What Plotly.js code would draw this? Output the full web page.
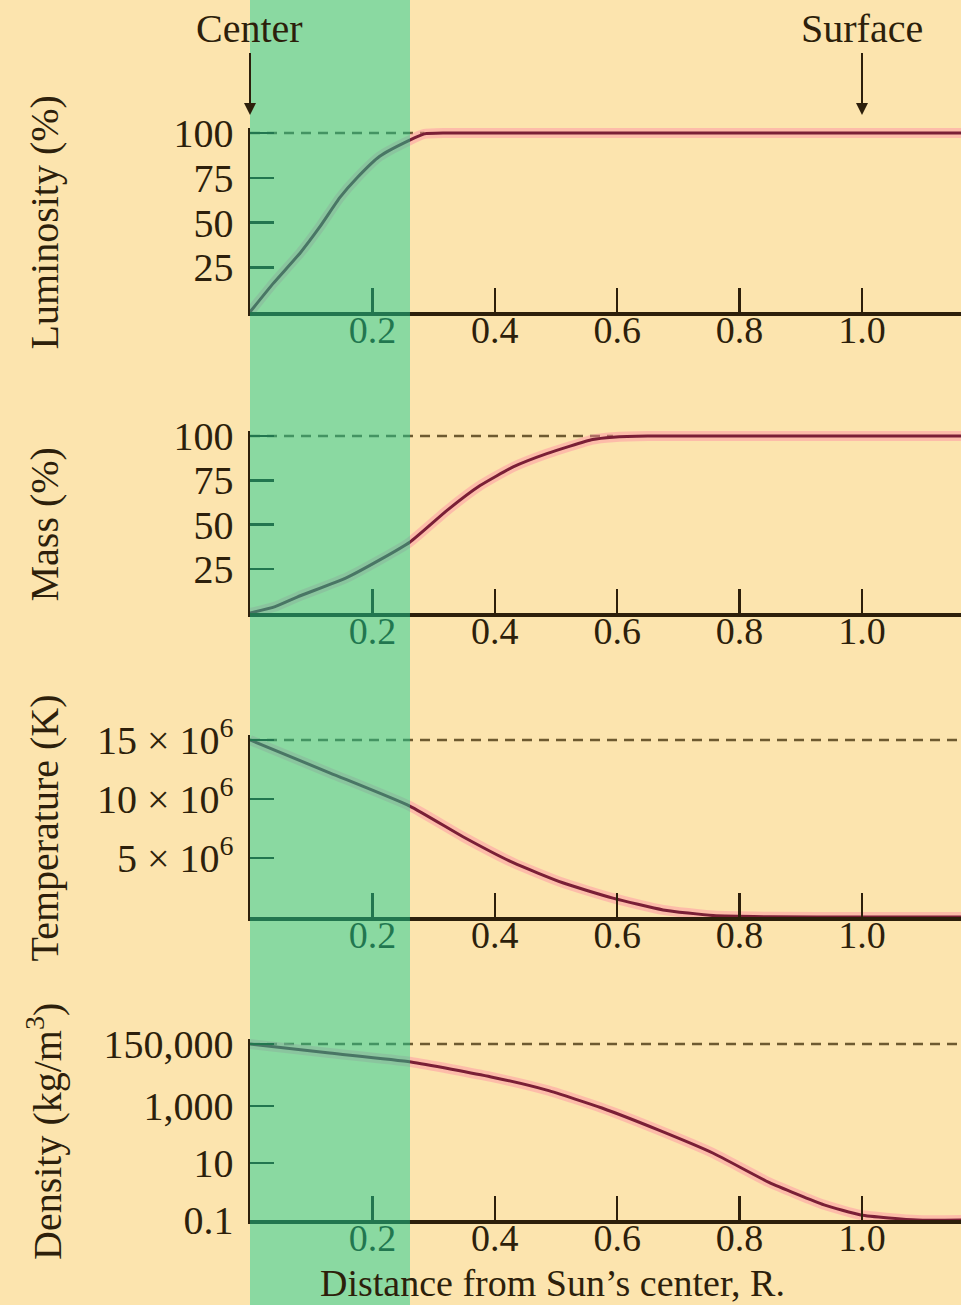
<!DOCTYPE html>
<html>
<head>
<meta charset="utf-8">
<script src="https://cdn.plot.ly/plotly-3.0.1.min.js"></script>
<style>html,body{margin:0;padding:0;background:#FCE4AE;}</style>
</head>
<body>
<div id="chart" style="width:961px;height:1305px;"></div>
<script>
// ---------- data ----------
const lumR   = [0, 0.038, 0.082, 0.114, 0.147, 0.175, 0.212, 0.261, 0.285, 0.32, 0.5, 0.7, 0.9, 1.0, 1.162];
const lumPct = [0, 16, 33, 47.5, 64, 75, 87, 96, 99.5, 100, 100, 100, 100, 100, 100];

const massR   = [0, 0.04, 0.077, 0.158, 0.212, 0.261, 0.322, 0.376, 0.43, 0.485, 0.56, 0.593, 0.65, 0.8, 1.0, 1.162];
const massPct = [0, 3.5, 9, 20, 30, 40, 58, 72, 82.5, 90, 98, 99.3, 100, 100, 100, 100];

const tempR = [0, 0.131, 0.261, 0.348, 0.43, 0.511, 0.593, 0.675, 0.757, 0.85, 1.0, 1.162];
const tempK = [15.0e6, 12.2e6, 9.4e6, 6.8e6, 4.6e6, 2.9e6, 1.6e6, 0.6e6, 0.12e6, 0.02e6, 0.006e6, 0.006e6];

const densR  = [0, 0.13, 0.263, 0.394, 0.485, 0.575, 0.667, 0.757, 0.848, 0.938, 0.998, 1.09, 1.162];
const densKg = [150000, 72000, 35000, 10500, 3600, 850, 145, 22, 2.1, 0.34, 0.15, 0.1, 0.1];

const xTickVals = [0.2, 0.4, 0.6, 0.8, 1.0];
const xTickText = ['0.2', '0.4', '0.6', '0.8', '1.0'];
const lumTickVals = [25, 50, 75, 100];
const lumTickText = ['25', '50', '75', '100'];
const massTickVals = [25, 50, 75, 100];
const massTickText = ['25', '50', '75', '100'];
const tempTickVals = [5e6, 10e6, 15e6];
const tempTickText = ['5 × 10<sup>6</sup>', '10 × 10<sup>6</sup>', '15 × 10<sup>6</sup>'];
const densTickVals = [0.1, 10, 1000, 150000];
const densTickText = ['0.1', '10', '1,000', '150,000'];

const yTitles = ['Luminosity (%)', 'Mass (%)', 'Temperature (K)', 'Density (kg/m<sup>3</sup>)'];
const xTitle = 'Distance from Sun’s center, R.';
const coreEdge = 0.2614;   // outer edge of the core (green band)

// ---------- styling / geometry ----------
const W = 961, H = 1305;
const X0 = 250, PXU = 612;          // x=0 at pixel 250, 612 px per R
const xMax = (W - X0) / PXU;
const ink = '#2d1f0b';
const lineCol = '#7a1f36';
const glowCol = 'rgba(255,140,165,0.45)';
const dashCol = '#6e5a30';
const serif = 'Liberation Serif, Times New Roman, serif';
const PAD = 5;

// panel geometry: pixel of bottom value & top value
const panels = [
  {r: lumR,  v: lumPct, lo: 0, hi: 100, bot: 312, top: 133, log: false, tv: lumTickVals, tt: lumTickText, dashTo: 'reach'},
  {r: massR, v: massPct, lo: 0, hi: 100, bot: 613, top: 436, log: false, tv: massTickVals, tt: massTickText, dashTo: 'reach'},
  {r: tempR, v: tempK, lo: 0, hi: 15e6, bot: 917, top: 740, log: false, tv: tempTickVals, tt: tempTickText, dashTo: 'end'},
  {r: densR, v: densKg, lo: -1, hi: Math.log10(150000), bot: 1220, top: 1044, log: true, tv: densTickVals, tt: densTickText, dashTo: 'end'}
];

const traces = [];
const layout = {
  width: W, height: H,
  margin: {l: 0, r: 0, t: 0, b: 0},
  paper_bgcolor: '#FCE4AE',
  plot_bgcolor: 'rgba(0,0,0,0)',
  showlegend: false,
  font: {family: serif, color: ink},
  shapes: [], annotations: []
};

panels.forEach((p, i) => {
  const n = i === 0 ? '' : String(i + 1);
  const xa = 'x' + n, ya = 'y' + n;
  const hiExt = p.hi + PAD * (p.hi - p.lo) / (p.bot - p.top);
  layout['xaxis' + n] = {
    domain: [X0 / W, 1], range: [0, xMax], anchor: ya,
    tickvals: xTickVals, ticktext: xTickText,
    ticks: 'inside', ticklen: 24, tickwidth: 2.5, tickcolor: ink,
    showline: true, linecolor: ink, linewidth: 3.5,
    showgrid: false, zeroline: false, ticklabelstandoff: -18,
    tickfont: {family: serif, size: 38, color: ink}
  };
  layout['yaxis' + n] = {
    domain: [1 - p.bot / H, 1 - (p.top - PAD) / H],
    range: [p.lo, hiExt], type: p.log ? 'log' : 'linear', anchor: xa,
    tickvals: p.tv, ticktext: p.tt,
    ticks: 'inside', ticklen: 24, tickwidth: 2.5, tickcolor: ink,
    showline: true, linecolor: ink, linewidth: 2.5,
    showgrid: false, zeroline: false, ticklabelstandoff: 6,
    tickfont: {family: serif, size: 40, color: ink}
  };
  // dashed reference line at the peak value
  const peak = Math.max(...p.v);
  let xEnd;
  if (p.dashTo === 'reach') {
    const k = p.v.findIndex(v => v >= 0.99 * peak);
    xEnd = p.r[k];
  } else {
    xEnd = p.r[p.r.length - 1];
  }
  traces.push({x: [p.r[0], xEnd], y: [peak, peak], xaxis: xa, yaxis: ya, mode: 'lines',
    line: {color: dashCol, width: 2.5, dash: '10px,7px'}, hoverinfo: 'skip'});
  traces.push({x: p.r, y: p.v, xaxis: xa, yaxis: ya, mode: 'lines',
    line: {color: glowCol, width: 10, shape: 'spline', smoothing: 0.5}, hoverinfo: 'skip'});
  traces.push({x: p.r, y: p.v, xaxis: xa, yaxis: ya, mode: 'lines',
    line: {color: lineCol, width: 3, shape: 'spline', smoothing: 0.5}, hoverinfo: 'skip'});

  layout.annotations.push({
    xref: 'paper', yref: 'paper', x: 44 / W, y: 1 - ((p.bot + p.top) / 2) / H,
    text: yTitles[i], textangle: -90, showarrow: false,
    font: {family: serif, size: 40, color: ink}, xanchor: 'center', yanchor: 'middle'
  });
});

// green band (core)
layout.shapes.push({
  type: 'rect', xref: 'paper', yref: 'paper',
  x0: X0 / W, x1: (X0 + coreEdge * PXU) / W, y0: 0, y1: 1,
  fillcolor: '#18CE94', opacity: 0.5, line: {width: 0}, layer: 'above'
});

// Center / Surface arrows
layout.annotations.push({
  xref: 'x', yref: 'paper', x: 0, y: 1 - 115 / H, text: 'Center',
  showarrow: true, ax: 0, ay: -86, arrowhead: 2, arrowsize: 1.2, arrowwidth: 2, arrowcolor: ink,
  font: {family: serif, size: 40, color: ink}
});
layout.annotations.push({
  xref: 'x', yref: 'paper', x: 1.0, y: 1 - 115 / H, text: 'Surface',
  showarrow: true, ax: 0, ay: -86, arrowhead: 2, arrowsize: 1.2, arrowwidth: 2, arrowcolor: ink,
  font: {family: serif, size: 40, color: ink}
});
// x title
layout.annotations.push({
  xref: 'paper', yref: 'paper', x: 552 / W, y: 1 - 1283 / H, text: xTitle,
  showarrow: false, xanchor: 'center', yanchor: 'middle',
  font: {family: serif, size: 38, color: ink}
});

Plotly.newPlot('chart', traces, layout, {staticPlot: true, displayModeBar: false});
</script>
</body>
</html>
